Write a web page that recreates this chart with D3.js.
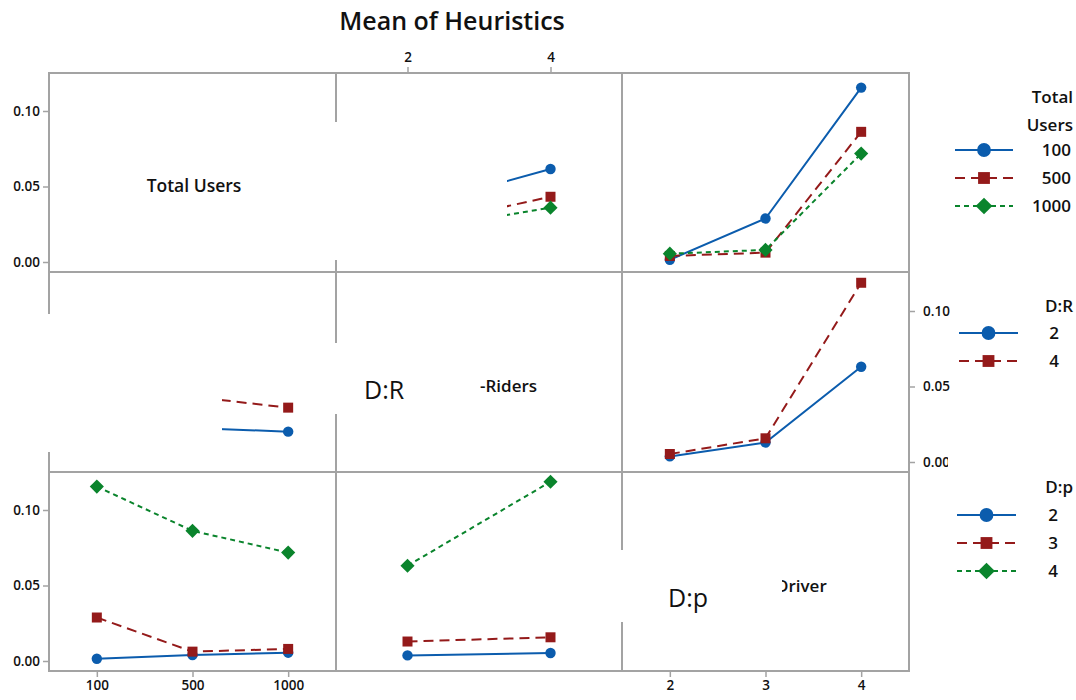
<!DOCTYPE html>
<html lang="en">
<head>
    <meta charset="UTF-8">
    <title>Mean of Heuristics</title>
    <script src="https://cdn.jsdelivr.net/npm/d3@7"></script>
    <style>
        html, body {
            margin: 0;
            padding: 0;
            background: #fff;
            overflow: hidden;
        }
        text {
            font-family: "Open Sans", "Noto Sans", sans-serif;
            fill: #111;
        }
        .frame {
            fill: none;
            stroke: #a3a3a3;
            stroke-width: 2px;
        }
        .axis line {
            stroke: #a3a3a3;
            stroke-width: 1.5px;
        }
        .axis text {
            font-size: 13.5px;
            font-weight: 600;
        }
        .series {
            fill: none;
            stroke-width: 2px;
        }
    </style>
</head>
<body>
<script>
    // factor levels
    let totalUsers = ['100', '500', '1000'];
    let drLevels = ['2', '4'];
    let dpLevels = ['2', '3', '4'];

    // mean heuristic, Total Users (100, 500, 1000) for each D:R level
    let tuByDr2 = [0.0352, 0.0225, 0.0201];
    let tuByDr4 = [0.0616, 0.0432, 0.0360];

    // mean heuristic, Total Users (100, 500, 1000) for each D:p level
    let tuByDp2 = [0.0015, 0.0040, 0.0055];
    let tuByDp3 = [0.0288, 0.0062, 0.0080];
    let tuByDp4 = [0.1155, 0.0862, 0.0718];

    // mean heuristic, D:R (2, 4) for each D:p level
    let drByDp2 = [0.0037, 0.0053];
    let drByDp3 = [0.0129, 0.0157];
    let drByDp4 = [0.0631, 0.1187];

    let yTicks = [0, 0.05, 0.10];

    let width = 1076;
    let height = 700;

    let colors = ['#0b5cad', '#941a1a', '#0a842c'];
    let dashes = [null, '10,6', '5,4'];
    let shapes = ['circle', 'square', 'diamond'];

    let svg = d3.select('body').append('svg')
        .attr('width', width)
        .attr('height', height);

    let colEdges = [49, 336, 622, 909];
    let rowEdges = [73, 272, 472, 671];

    let xScales = [
        d3.scalePoint().domain(totalUsers).range([colEdges[0], colEdges[1]]).padding(0.5),
        d3.scalePoint().domain(drLevels).range([colEdges[1], colEdges[2]]).padding(0.5),
        d3.scalePoint().domain(dpLevels).range([colEdges[2], colEdges[3]]).padding(0.5)
    ];
    let yScales = [0, 1, 2].map(r => d3.scaleLinear()
        .domain([0, 0.10])
        .range([rowEdges[r + 1] - 10, rowEdges[r + 1] - 161]));

    // title
    svg.append('text')
        .attr('x', 452).attr('y', 30)
        .attr('text-anchor', 'middle')
        .style('font-size', '25px')
        .style('font-weight', 600)
        .text('Mean of Heuristics');

    // panel frames
    for (let r = 0; r < 3; r++) {
        for (let c = 0; c < 3; c++) {
            svg.append('rect')
                .classed('frame', true)
                .attr('x', colEdges[c]).attr('y', rowEdges[r])
                .attr('width', colEdges[c + 1] - colEdges[c])
                .attr('height', rowEdges[r + 1] - rowEdges[r]);
        }
    }

    // axes
    function styleAxis(g) {
        g.classed('axis', true);
        g.select('.domain').remove();
    }
    svg.append('g').attr('transform', `translate(${colEdges[0]},0)`)
        .call(d3.axisLeft(yScales[0]).tickValues(yTicks).tickFormat(d3.format('.2f')).tickSize(6))
        .call(styleAxis);
    svg.append('g').attr('transform', `translate(${colEdges[0]},0)`)
        .call(d3.axisLeft(yScales[2]).tickValues(yTicks).tickFormat(d3.format('.2f')).tickSize(6))
        .call(styleAxis);
    svg.append('g').attr('transform', `translate(${colEdges[3]},0)`)
        .call(d3.axisRight(yScales[1]).tickValues(yTicks).tickFormat(d3.format('.2f')).tickSize(6).tickPadding(8))
        .call(styleAxis);
    svg.append('g').attr('transform', `translate(0,${rowEdges[0]})`)
        .call(d3.axisTop(xScales[1]).tickSize(6).tickPadding(5))
        .call(styleAxis);
    svg.append('g').attr('transform', `translate(0,${rowEdges[3]})`)
        .call(d3.axisBottom(xScales[0]).tickSize(6))
        .call(styleAxis);
    svg.append('g').attr('transform', `translate(0,${rowEdges[3]})`)
        .call(d3.axisBottom(xScales[2]).tickSize(6))
        .call(styleAxis);

    function symbolPath(shape, size) {
        if (shape === 'circle') return d3.symbol(d3.symbolCircle, size)();
        return d3.symbol(d3.symbolSquare, size)();
    }

    // one interaction panel: traces[i] holds values along the x factor
    function drawPanel(r, c, traces) {
        let x = xScales[c];
        let y = yScales[r];
        let levels = x.domain();
        let line = d3.line()
            .x((d, i) => x(levels[i]))
            .y(d => y(d));
        let g = svg.append('g');
        traces.forEach((vals, k) => {
            g.append('path')
                .classed('series', true)
                .attr('d', line(vals))
                .attr('stroke', colors[k])
                .attr('stroke-dasharray', dashes[k]);
            g.selectAll(null)
                .data(vals).enter()
                .append('path')
                .attr('d', symbolPath(shapes[k], shapes[k] === 'circle' ? 85 : 100))
                .attr('fill', colors[k])
                .attr('transform', (d, i) => `translate(${x(levels[i])},${y(d)})` +
                    (shapes[k] === 'diamond' ? ' rotate(45)' : ''));
        });
    }

    // row 1: traces by Total Users
    drawPanel(0, 1, totalUsers.map((t, i) => [tuByDr2[i], tuByDr4[i]]));
    drawPanel(0, 2, totalUsers.map((t, i) => [tuByDp2[i], tuByDp3[i], tuByDp4[i]]));
    // row 2: traces by D:R
    drawPanel(1, 0, [tuByDr2, tuByDr4]);
    drawPanel(1, 2, [0, 1].map(i => [drByDp2[i], drByDp3[i], drByDp4[i]]));
    // row 3: traces by D:p
    drawPanel(2, 0, [tuByDp2, tuByDp3, tuByDp4]);
    drawPanel(2, 1, [drByDp2, drByDp3, drByDp4]);

    // diagonal labels
    svg.append('text')
        .attr('x', 194).attr('y', 192)
        .attr('text-anchor', 'middle')
        .style('font-size', '17.5px').style('font-weight', 600)
        .text('Total Users');
    svg.append('text')
        .attr('x', 480).attr('y', 392)
        .style('font-size', '17px').style('font-weight', 600)
        .text('-Riders');
    svg.append('text')
        .attr('x', 776).attr('y', 592)
        .style('font-size', '17px').style('font-weight', 600)
        .text('Driver');

    // white cover boxes over the plot
    let covers = [
        [250, 122, 257, 138],
        [0, 314, 222, 138],
        [300, 343, 180, 71],
        [600, 550, 182, 72],
        [948, 452, 40, 20]
    ];
    covers.forEach(b => {
        svg.append('rect')
            .attr('x', b[0]).attr('y', b[1])
            .attr('width', b[2]).attr('height', b[3])
            .attr('fill', '#fff');
    });
    svg.append('text')
        .attr('x', 364).attr('y', 399)
        .style('font-size', '25px')
        .text('D:R');
    svg.append('text')
        .attr('x', 668).attr('y', 607)
        .style('font-size', '25px')
        .text('D:p');

    // legends
    function drawLegend(titleLines, titleY, labels, rowY, x0, x1, labelX) {
        let g = svg.append('g');
        titleLines.forEach((t, i) => {
            g.append('text')
                .attr('x', 1073).attr('y', titleY + i * 28)
                .attr('text-anchor', 'end')
                .style('font-size', '17px').style('font-weight', 600)
                .text(t);
        });
        labels.forEach((lab, k) => {
            let yy = rowY + k * 28;
            g.append('line')
                .attr('x1', x0).attr('x2', x1)
                .attr('y1', yy).attr('y2', yy)
                .attr('stroke', colors[k])
                .attr('stroke-width', 2)
                .attr('stroke-dasharray', dashes[k]);
            g.append('path')
                .attr('d', symbolPath(shapes[k], shapes[k] === 'circle' ? 150 : 140))
                .attr('fill', colors[k])
                .attr('transform', `translate(${(x0 + x1) / 2},${yy})` +
                    (shapes[k] === 'diamond' ? ' rotate(45)' : ''));
            g.append('text')
                .attr('x', labelX).attr('y', yy + 6)
                .attr('text-anchor', 'end')
                .style('font-size', '17px').style('font-weight', 600)
                .text(lab);
        });
    }
    drawLegend(['Total', 'Users'], 103, totalUsers, 150, 955, 1013, 1071);
    drawLegend(['D:R'], 312, drLevels, 333, 959, 1018, 1059);
    drawLegend(['D:p'], 493, dpLevels, 515, 957, 1016, 1058);
</script>
</body>
</html>
